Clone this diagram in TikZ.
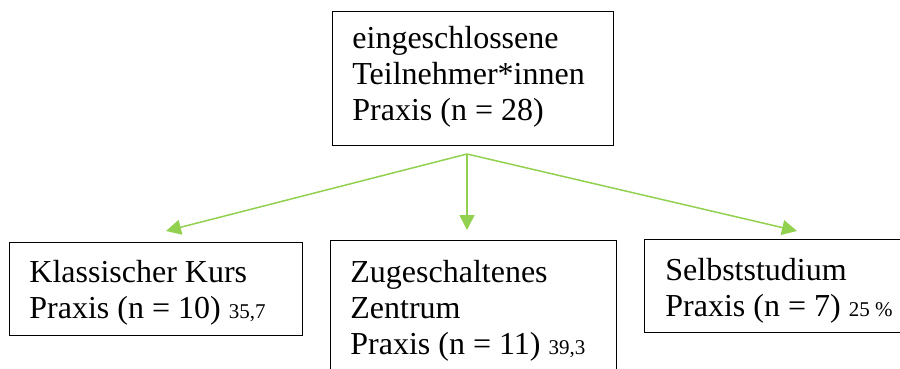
\documentclass[tikz,border=0pt]{standalone}
\usepackage{fontspec}
\setmainfont{Liberation Serif}
\usetikzlibrary{arrows.meta}
\definecolor{linkgreen}{RGB}{146,208,80}
\tikzset{
  frame/.style={draw=black, line width=0.7pt, inner sep=0pt, anchor=north west},
  % anchored at the baseline of the last line
  boxtext/.style={anchor=base west, align=left, inner sep=0pt,
    font=\fontsize{16}{18}\selectfont},
  link/.style={draw=linkgreen, line width=0.75pt,
    -{Triangle[length=7.5pt,width=7.5pt]}}
}
\newcommand{\share}[1]{{\fontsize{10.5}{12}\selectfont #1}}
\begin{document}
\begin{tikzpicture}[x=0.5pt, y=-0.5pt]
  \useasboundingbox (0,0) rectangle (900,369);
  \clip (0,0) rectangle (900,369);

  % boxes
  \node[frame, minimum width=140.5pt, minimum height=67pt] (top) at (332,11) {};
  \node[frame, minimum width=146.5pt, minimum height=46.5pt] (left) at (9,242) {};
  \node[frame, minimum width=143pt, minimum height=75pt] (mid) at (330,240) {};
  \node[frame, minimum width=135pt, minimum height=46.5pt] (right) at (644,239) {};

  % box texts
  \node[boxtext] (toptext) at ([shift={(20,110)}]top.north west)
    {eingeschlossene\\Teilnehmer*innen\\Praxis (n = 28)};
  \node[boxtext] (lefttext) at ([shift={(20,76)}]left.north west)
    {Klassischer Kurs\\Praxis (n = 10) \share{35,7}};
  \node[boxtext] (midtext) at ([shift={(20,114)}]mid.north west)
    {Zugeschaltenes\\Zentrum\\Praxis (n = 11) \share{39,3}};
  \node[boxtext] (righttext) at ([shift={(21,77)}]right.north west)
    {Selbststudium\\Praxis (n = 7) \share{25 \%}};

  % connectors
  \coordinate (split) at (467,154);
  \coordinate (tipleft) at (166,231);
  \coordinate (tipmid) at (467,230);
  \coordinate (tipright) at (797,231);
  \draw[link] (split) -- (tipleft);
  \draw[link] (split) -- (tipmid);
  \draw[link] (split) -- (tipright);
\end{tikzpicture}
\end{document}
